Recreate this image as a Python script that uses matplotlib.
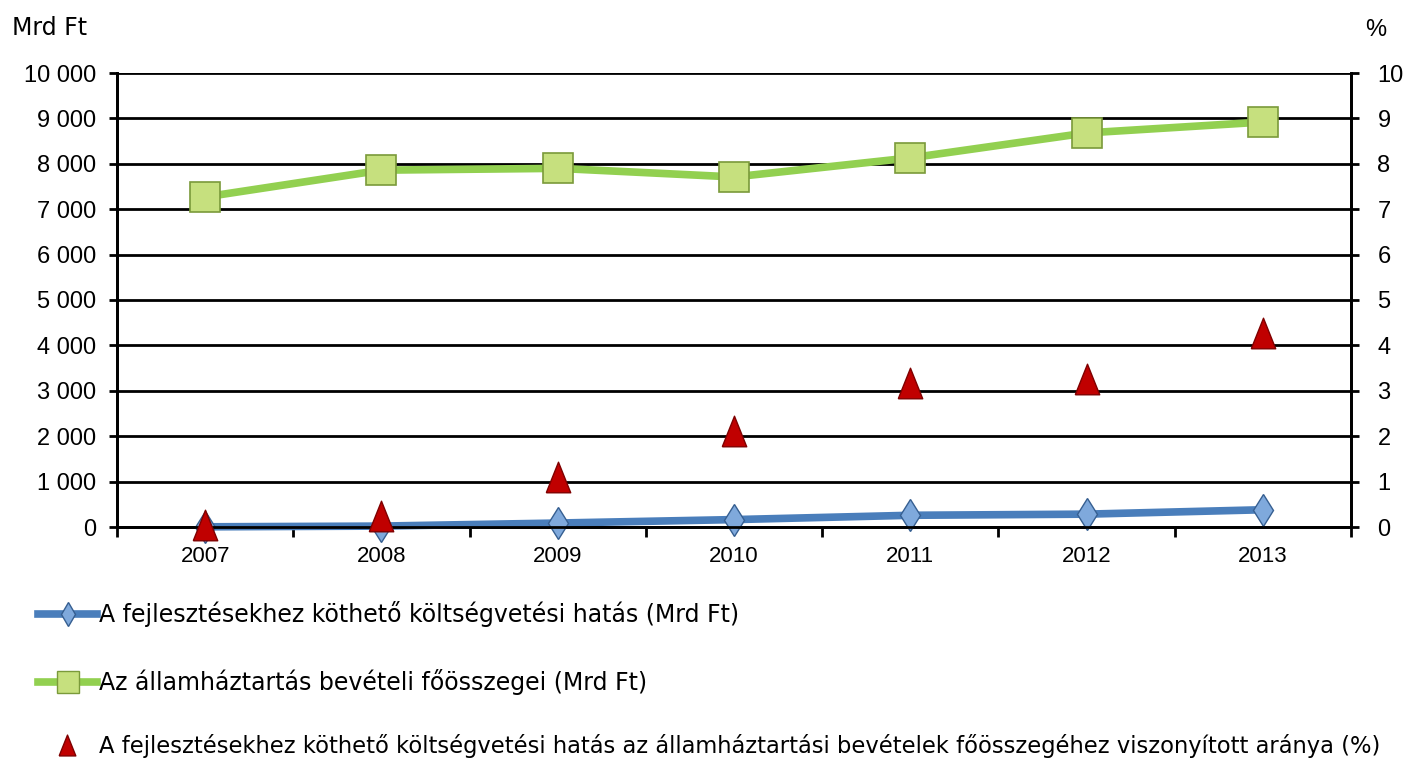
import numpy as np
import matplotlib
matplotlib.use("Agg")
import matplotlib.pyplot as plt
from matplotlib.lines import Line2D
from matplotlib.ticker import FixedLocator, FuncFormatter

plt.rcParams['font.family'] = ['Liberation Sans', 'DejaVu Sans']

years = ["2007", "2008", "2009", "2010", "2011", "2012", "2013"]
hatas = [4, 20, 87, 163, 258, 283, 380]                 # Mrd Ft
bevetel = [7270, 7860, 7900, 7710, 8130, 8680, 8920]    # Mrd Ft
arany = [0.05, 0.25, 1.10, 2.11, 3.17, 3.26, 4.27]      # %

lab_hatas = "A fejlesztésekhez köthető költségvetési hatás (Mrd Ft)"
lab_bevetel = "Az államháztartás bevételi főösszegei (Mrd Ft)"
lab_arany = ("A fejlesztésekhez köthető költségvetési hatás az államháztartási "
             "bevételek főösszegéhez viszonyított aránya (%)")

blue_line = "#4a7ebb"
blue_face = "#7fa9dc"
blue_edge = "#365f91"
green_line = "#92d050"
green_face = "#c6e07e"
green_edge = "#7a9a3a"
red_face = "#c00000"
red_edge = "#7f0000"

# taller than wide triangle, like the Excel marker
tri = [(-0.8, -1.0), (0.8, -1.0), (0.0, 1.0), (-0.8, -1.0)]

fig = plt.figure(figsize=(14.06, 7.59), dpi=100)
ax = fig.add_axes([117 / 1406, 1 - 527 / 759, (1351 - 117) / 1406, (527 - 73) / 759])
ax2 = ax.twinx()

x = np.arange(len(years))
l1, = ax.plot(x, hatas, color=blue_line, lw=5.5, marker="d", markersize=16.5,
              markerfacecolor=blue_face, markeredgecolor=blue_edge, markeredgewidth=1,
              zorder=4, clip_on=False)
l2, = ax.plot(x, bevetel, color=green_line, lw=5.5, marker="s", markersize=21,
              markerfacecolor=green_face, markeredgecolor=green_edge, markeredgewidth=1.2,
              zorder=4, clip_on=False)
l3, = ax2.plot(x, arany, ls="none", marker=tri, markersize=22,
               markerfacecolor=red_face, markeredgecolor=red_edge, markeredgewidth=1,
               zorder=5, clip_on=False)

ax.set_xlim(-0.5, len(years) - 0.5)
ax.set_ylim(0, 10000)
ax2.set_ylim(0, 10)

ax.set_yticks(np.arange(0, 10001, 1000))
ax.yaxis.set_major_formatter(FuncFormatter(lambda v, p: f"{int(v):,}".replace(",", " ")))
ax2.set_yticks(np.arange(0, 11, 1))

ax.set_xticks(x)
ax.set_xticklabels(years)
ax.xaxis.set_minor_locator(FixedLocator(np.arange(-0.5, len(years), 1.0)))
ax.tick_params(axis="x", which="major", length=0, pad=14, labelsize=16)
ax.tick_params(axis="x", which="minor", length=7, width=2, direction="out")
ax.tick_params(axis="y", length=6, width=2, direction="out", labelsize=17, pad=9)
ax2.tick_params(axis="y", length=6, width=2, direction="out", labelsize=17, pad=13)

ax.grid(axis="y", color="black", lw=2)
ax.set_axisbelow(True)
ax.spines["top"].set_visible(False)
ax2.spines["top"].set_visible(False)
for a in (ax, ax2):
    for s in ["left", "right", "bottom"]:
        a.spines[s].set_linewidth(2)
        a.spines[s].set_color("black")

fig.text(12 / 1406, 1 - 28 / 759, "Mrd Ft", fontsize=17, va="center", ha="left",
         family="DejaVu Sans")
fig.text(1365 / 1406, 1 - 30 / 759, "%", fontsize=17, va="center", ha="left")

# legend, three stacked entries
kw = dict(frameon=False, handlelength=2.5, handletextpad=0.1,
          borderpad=0, borderaxespad=0, loc="center left",
          prop={"family": "DejaVu Sans", "size": 17})
h1 = Line2D([], [], color=blue_line, lw=5.5, marker="d", markersize=12,
            markerfacecolor=blue_face, markeredgecolor=blue_edge)
h2 = Line2D([], [], color=green_line, lw=5.5, marker="s", markersize=16,
            markerfacecolor=green_face, markeredgecolor=green_edge)
h3 = Line2D([], [], ls="none", marker=tri, markersize=15,
            markerfacecolor=red_face, markeredgecolor=red_edge)
leg1 = fig.legend([h1], [lab_hatas], bbox_to_anchor=(38 / 1406, 1 - 614 / 759), **kw)
leg2 = fig.legend([h2], [lab_bevetel], bbox_to_anchor=(38 / 1406, 1 - 682 / 759), **kw)
kw3 = dict(kw, prop={"family": "DejaVu Sans", "size": 16.3}, handlelength=2.6)
leg3 = fig.legend([h3], [lab_arany], bbox_to_anchor=(38 / 1406, 1 - 746 / 759), **kw3)

fig.savefig("out.png", dpi=100)
